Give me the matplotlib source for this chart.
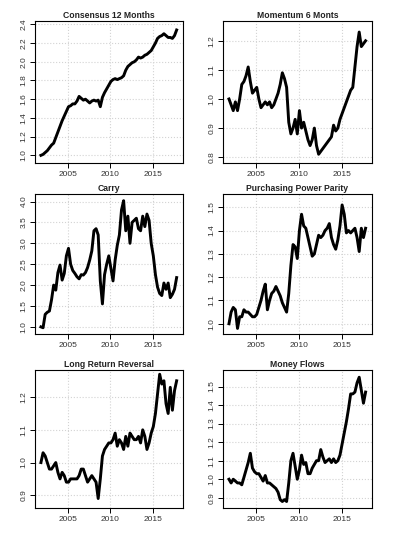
import numpy as np
import matplotlib
matplotlib.use('Agg')
import matplotlib.pyplot as plt
from matplotlib.ticker import FormatStrFormatter

plt.rcParams['font.family'] = ['Liberation Sans', 'DejaVu Sans']

# quarterly observation dates (decimal years)
dates = 2001.8 + 0.25 * np.arange(65)

consensus = [1.00, 1.01, 1.03, 1.05, 1.08, 1.11, 1.13, 1.19, 1.25, 1.31, 1.37, 1.42, 1.47,
             1.52, 1.53, 1.55, 1.55, 1.58, 1.63, 1.61, 1.59, 1.60, 1.58, 1.56, 1.58, 1.59,
             1.58, 1.59, 1.52, 1.62, 1.67, 1.71, 1.75, 1.79, 1.81, 1.82, 1.81, 1.82, 1.83,
             1.85, 1.91, 1.95, 1.97, 1.99, 2.00, 2.02, 2.05, 2.04, 2.05, 2.07, 2.08, 2.10,
             2.12, 2.16, 2.20, 2.25, 2.27, 2.28, 2.30, 2.28, 2.26, 2.26, 2.25, 2.28, 2.34]

momentum = [1.00, 0.98, 0.96, 0.99, 0.96, 1.00, 1.05, 1.06, 1.08, 1.11, 1.06, 1.02, 1.03,
            1.04, 1.00, 0.97, 0.98, 0.99, 0.98, 0.99, 0.97, 0.98, 1.00, 1.02, 1.05, 1.09,
            1.07, 1.04, 0.92, 0.88, 0.90, 0.93, 0.88, 0.96, 0.90, 0.92, 0.89, 0.86, 0.84,
            0.86, 0.90, 0.84, 0.81, 0.82, 0.83, 0.84, 0.85, 0.86, 0.87, 0.91, 0.89, 0.90,
            0.93, 0.95, 0.97, 0.99, 1.01, 1.03, 1.04, 1.11, 1.18, 1.23, 1.18, 1.19, 1.20]

carry = [1.00, 0.98, 1.30, 1.35, 1.38, 1.65, 2.00, 1.88, 2.30, 2.48, 2.12, 2.28, 2.70,
         2.88, 2.50, 2.35, 2.28, 2.20, 2.15, 2.25, 2.24, 2.30, 2.42, 2.60, 2.82, 3.30,
         3.35, 3.20, 2.10, 1.55, 2.25, 2.50, 2.70, 2.40, 2.10, 2.60, 2.95, 3.20, 3.80,
         4.02, 3.30, 3.65, 3.00, 3.50, 3.55, 3.60, 3.35, 3.30, 3.65, 3.40, 3.70, 3.55,
         3.00, 2.70, 2.25, 1.95, 1.80, 1.75, 2.05, 1.90, 2.05, 1.70, 1.78, 1.90, 2.18]

ppp = [1.00, 1.05, 1.07, 1.06, 0.98, 1.03, 1.03, 1.06, 1.05, 1.05, 1.04, 1.03, 1.03,
       1.04, 1.07, 1.10, 1.14, 1.17, 1.06, 1.10, 1.13, 1.14, 1.16, 1.14, 1.12, 1.09,
       1.07, 1.05, 1.13, 1.25, 1.34, 1.33, 1.28, 1.40, 1.47, 1.42, 1.41, 1.37, 1.33,
       1.29, 1.30, 1.34, 1.38, 1.37, 1.38, 1.40, 1.41, 1.43, 1.37, 1.34, 1.32, 1.36,
       1.42, 1.51, 1.47, 1.39, 1.40, 1.39, 1.40, 1.41, 1.37, 1.31, 1.41, 1.37, 1.41]

reversal = [1.00, 1.03, 1.02, 1.00, 0.98, 0.98, 0.99, 1.00, 0.97, 0.95, 0.97, 0.96, 0.94,
            0.94, 0.95, 0.95, 0.95, 0.95, 0.96, 0.98, 0.98, 0.96, 0.94, 0.95, 0.96, 0.95,
            0.94, 0.89, 0.95, 1.02, 1.04, 1.05, 1.06, 1.06, 1.07, 1.09, 1.05, 1.07, 1.06,
            1.04, 1.08, 1.05, 1.09, 1.08, 1.07, 1.07, 1.08, 1.06, 1.10, 1.08, 1.04, 1.06,
            1.09, 1.11, 1.15, 1.21, 1.27, 1.24, 1.25, 1.18, 1.15, 1.23, 1.16, 1.22, 1.25]

money = [1.00, 0.98, 1.00, 0.99, 0.98, 0.98, 0.97, 1.01, 1.05, 1.09, 1.14, 1.06, 1.04,
         1.03, 1.03, 1.01, 0.99, 1.02, 0.98, 0.98, 0.97, 0.96, 0.95, 0.93, 0.89, 0.88,
         0.89, 0.88, 0.98, 1.10, 1.14, 1.07, 1.00, 1.05, 1.13, 1.08, 1.09, 1.03, 1.03,
         1.06, 1.08, 1.10, 1.10, 1.16, 1.12, 1.09, 1.10, 1.11, 1.09, 1.11, 1.09, 1.10,
         1.13, 1.19, 1.25, 1.31, 1.38, 1.46, 1.46, 1.47, 1.52, 1.55, 1.48, 1.41, 1.47]

titles = ['Consensus 12 Months', 'Momentum 6 Monts', 'Carry',
          'Purchasing Power Parity', 'Long Return Reversal', 'Money Flows']
series = [consensus, momentum, carry, ppp, reversal, money]
yticks = [np.arange(1.0, 2.41, 0.2), np.arange(0.8, 1.21, 0.1), np.arange(1.0, 4.01, 0.5),
          np.arange(1.0, 1.51, 0.1), np.arange(0.9, 1.21, 0.1), np.arange(0.9, 1.51, 0.1)]
ylims = [(0.918, 2.436), (0.780, 1.268), (0.83, 4.18),
         (0.956, 1.557), (0.861, 1.283), (0.845, 1.589)]

W, H = 398, 534
fig = plt.figure(figsize=(W / 100, H / 100), dpi=100)
lefts = [35, 223]
widths = [148, 149]
rows = [(21, 163), (194, 334), (370, 508)]

for i in range(6):
    r, c = divmod(i, 2)
    top, bot = rows[r]
    ax = fig.add_axes([lefts[c] / W, 1 - bot / H, widths[c] / W, (bot - top) / H])
    ax.plot(dates, series[i], color='black', linewidth=2.1)
    ax.set_xlim(2001.1, 2018.55)
    ax.set_ylim(*ylims[i])
    ax.set_xticks([2005, 2010, 2015])
    ax.set_yticks(yticks[i])
    ax.yaxis.set_major_formatter(FormatStrFormatter('%.1f'))
    ax.grid(color='lightgray', linestyle=':', linewidth=0.8)
    ax.tick_params(length=3.5, width=0.7, labelsize=6, pad=2, colors='black')
    ax.tick_params(labelcolor='#333333')
    plt.setp(ax.get_yticklabels(), rotation=90, va='center')
    for s in ax.spines.values():
        s.set_linewidth(0.8)
    ax.set_title(titles[i], fontsize=6.2, fontweight='bold', pad=2.5, color='#222222')

fig.savefig('out.png', dpi=100, facecolor='white')
